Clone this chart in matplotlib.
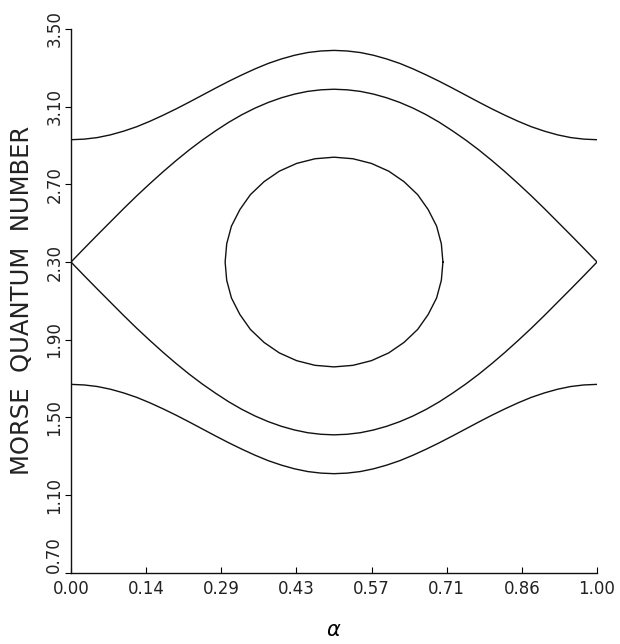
import numpy as np
import matplotlib
matplotlib.use('Agg')
from matplotlib import pyplot as plt

# values (alpha on x, Morse quantum number on y)
alpha = [0.000, 0.025, 0.050, 0.075, 0.100, 0.125, 0.150, 0.175, 0.200, 0.225,
         0.250, 0.275, 0.300, 0.325, 0.350, 0.375, 0.400, 0.425, 0.450, 0.475,
         0.500, 0.525, 0.550, 0.575, 0.600, 0.625, 0.650, 0.675, 0.700, 0.725,
         0.750, 0.775, 0.800, 0.825, 0.850, 0.875, 0.900, 0.925, 0.950, 0.975,
         1.000]

outer_top = [2.930, 2.933, 2.941, 2.955, 2.974, 2.997, 3.025, 3.056, 3.089, 3.124,
             3.160, 3.196, 3.231, 3.264, 3.295, 3.323, 3.346, 3.365, 3.379, 3.387,
             3.390, 3.387, 3.379, 3.365, 3.346, 3.323, 3.295, 3.264, 3.231, 3.196,
             3.160, 3.124, 3.089, 3.056, 3.025, 2.997, 2.974, 2.955, 2.941, 2.933,
             2.930]
outer_bottom = [1.670, 1.667, 1.659, 1.645, 1.626, 1.603, 1.575, 1.544, 1.511, 1.476,
                1.440, 1.404, 1.369, 1.336, 1.305, 1.277, 1.254, 1.235, 1.221, 1.213,
                1.210, 1.213, 1.221, 1.235, 1.254, 1.277, 1.305, 1.336, 1.369, 1.404,
                1.440, 1.476, 1.511, 1.544, 1.575, 1.603, 1.626, 1.645, 1.659, 1.667,
                1.670]
sep_top = [2.300, 2.370, 2.439, 2.507, 2.575, 2.641, 2.704, 2.765, 2.823, 2.878,
           2.929, 2.976, 3.020, 3.059, 3.093, 3.122, 3.146, 3.165, 3.179, 3.187,
           3.190, 3.187, 3.179, 3.165, 3.146, 3.122, 3.093, 3.059, 3.020, 2.976,
           2.929, 2.878, 2.823, 2.765, 2.704, 2.641, 2.575, 2.507, 2.439, 2.370,
           2.300]
sep_bottom = [2.300, 2.230, 2.161, 2.093, 2.025, 1.959, 1.896, 1.835, 1.777, 1.722,
              1.671, 1.624, 1.580, 1.541, 1.507, 1.478, 1.454, 1.435, 1.421, 1.413,
              1.410, 1.413, 1.421, 1.435, 1.454, 1.478, 1.507, 1.541, 1.580, 1.624,
              1.671, 1.722, 1.777, 1.835, 1.896, 1.959, 2.025, 2.093, 2.161, 2.230,
              2.300]

# closed orbit round the centre (0.5, 2.30)
loop_x = [0.707, 0.704, 0.695, 0.679, 0.659, 0.633, 0.604, 0.571, 0.536, 0.500,
          0.464, 0.429, 0.396, 0.367, 0.341, 0.321, 0.305, 0.296, 0.293,
          0.296, 0.305, 0.321, 0.341, 0.367, 0.396, 0.429, 0.464, 0.500,
          0.536, 0.571, 0.604, 0.633, 0.659, 0.679, 0.695, 0.704, 0.707]
loop_y = [2.300, 2.394, 2.485, 2.570, 2.647, 2.714, 2.768, 2.808, 2.832, 2.840,
          2.832, 2.808, 2.768, 2.714, 2.647, 2.570, 2.485, 2.394, 2.300,
          2.206, 2.115, 2.030, 1.953, 1.886, 1.832, 1.792, 1.768, 1.760,
          1.768, 1.792, 1.832, 1.886, 1.953, 2.030, 2.115, 2.206, 2.300]

x_ticks = [0, 1/7, 2/7, 3/7, 4/7, 5/7, 6/7, 1]
x_labels = ['0.00', '0.14', '0.29', '0.43', '0.57', '0.71', '0.86', '1.00']
y_ticks = [0.70, 1.10, 1.50, 1.90, 2.30, 2.70, 3.10, 3.50]
y_labels = ['0.70', '1.10', '1.50', '1.90', '2.30', '2.70', '3.10', '3.50']

plt.rcParams['font.family'] = ['DejaVu Sans']

fig = plt.figure(figsize=(6.2, 6.44), dpi=100)
ax = fig.add_axes([0.1145, 0.1107, 0.8485, 0.8442])

lw = 1.0
col = '#111111'
ax.plot(alpha, outer_top, color=col, lw=lw)
ax.plot(alpha, outer_bottom, color=col, lw=lw)
ax.plot(alpha, sep_top, color=col, lw=lw)
ax.plot(alpha, sep_bottom, color=col, lw=lw)
ax.plot(loop_x, loop_y, color=col, lw=lw)

ax.set_xlim(0, 1)
ax.set_ylim(0.70, 3.50)
ax.spines['top'].set_visible(False)
ax.spines['right'].set_visible(False)
for s in ['left', 'bottom']:
    ax.spines[s].set_linewidth(1.0)
    ax.spines[s].set_color(col)

ax.set_xticks(x_ticks)
ax.set_xticklabels(x_labels, fontsize=12, color='#222222')
ax.set_yticks(y_ticks)
ax.set_yticklabels(y_labels, fontsize=12, rotation=90, va='center', color='#222222')
# lowest y label sits above its tick, clear of the 0.00 label
ax.get_yticklabels()[0].set_va('bottom')
ax.tick_params(axis='x', direction='in', length=4, width=0.8, pad=5)
ax.tick_params(axis='y', direction='out', length=4, width=0.8, pad=1.5)

ax.set_ylabel('MORSE  QUANTUM  NUMBER', fontsize=17.5, color='#222222', labelpad=8)
ax.set_xlabel(r'$\alpha$', fontsize=15, labelpad=16)

fig.savefig('out.png', dpi=100)
